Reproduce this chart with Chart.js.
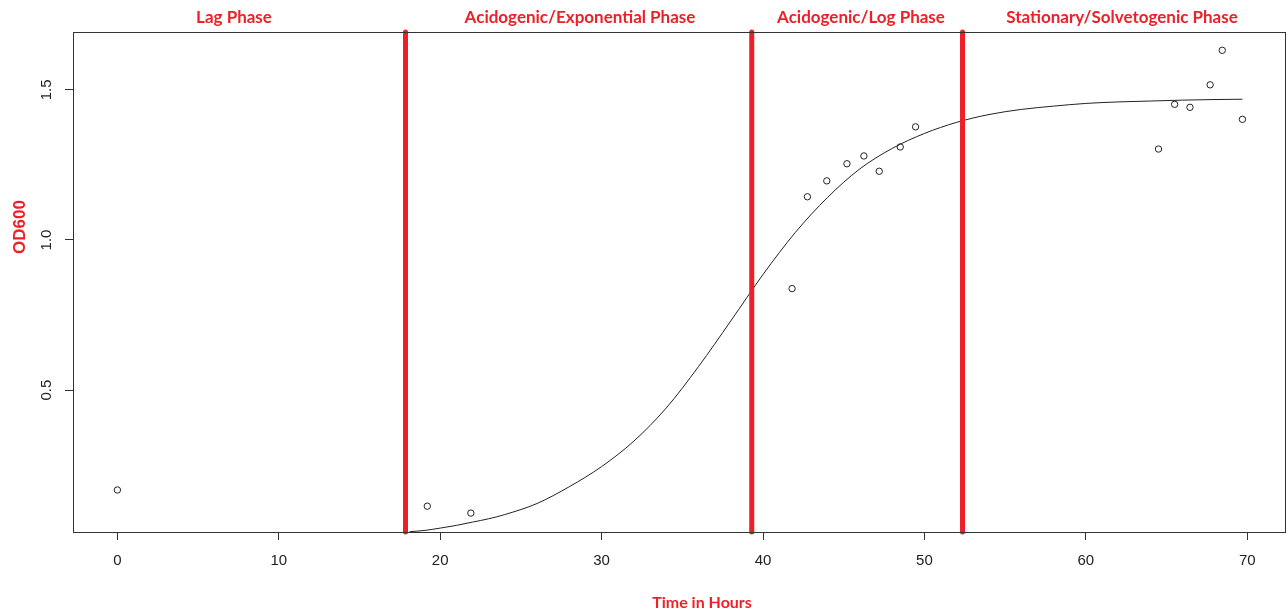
<!DOCTYPE html>
<html lang="en">
<head>
  <meta charset="utf-8" />
  <title>Growth curve OD600</title>
  <style>
    body { margin: 0; background: #fff; }
    #wrap { width: 1288px; height: 613px; }
  </style>
  <script src="https://cdn.jsdelivr.net/npm/chart.js"></script>
</head>
<body>
  <div id="wrap"><canvas id="growthChart" width="1288" height="613"></canvas></div>
  <script>
    // measured points (hours, OD600)
    const obsHours = [0, 19.2, 21.9, 41.8, 42.75, 43.95, 45.2, 46.25, 47.2, 48.5, 49.45, 64.5, 65.5, 66.45, 67.7, 68.45, 69.7];
    const obsOD    = [0.167, 0.113, 0.090, 0.838, 1.144, 1.197, 1.254, 1.280, 1.229, 1.310, 1.377, 1.303, 1.452, 1.442, 1.517, 1.632, 1.402];

    // fitted curve
    const fitHours = [18.1, 19, 20, 21, 22, 23, 24, 26, 28, 30, 32, 34, 36, 38, 40, 42, 44, 46, 48, 50, 52, 54, 56, 58, 60, 62, 64, 66, 68, 69.7];
    const fitOD    = [0.028, 0.032, 0.040, 0.049, 0.060, 0.071, 0.085, 0.122, 0.178, 0.245, 0.330, 0.440, 0.578, 0.730, 0.885, 1.025, 1.142, 1.237, 1.305, 1.355, 1.392, 1.418, 1.435, 1.446, 1.455, 1.460, 1.463, 1.466, 1.468, 1.469];

    // phase boundaries (hours)
    const phaseBreaks = [17.85, 39.3, 52.36];
    const phaseNames = ['Lag Phase', 'Acidogenic/Exponential Phase', 'Acidogenic/Log Phase', 'Stationary/Solvetogenic Phase'];

    const xTicks = [0, 10, 20, 30, 40, 50, 60, 70];
    const yTicks = [0.5, 1.0, 1.5];

    const X_MIN = -2.75, X_MAX = 72.4;
    const Y_MIN = 0.027, Y_MAX = 1.693;
    const RED = '#ee1f26';

    // label centres in pixels (hand placed like the original)
    const phaseLabelPx = [234, 580, 861, 1122];

    const textPlugin = {
      id: 'rtext',
      afterDraw(chart) {
        const ctx = chart.ctx;
        const a = chart.chartArea;
        const ys = chart.scales.y;
        ctx.save();
        // box around plot
        ctx.strokeStyle = '#333';
        ctx.lineWidth = 1;
        ctx.strokeRect(a.left + 0.5, a.top + 0.5, a.right - a.left - 1, a.bottom - a.top);

        // y tick labels, rotated like base R
        ctx.fillStyle = '#222';
        ctx.font = '15px "Liberation Sans", Arial, sans-serif';
        ctx.textAlign = 'center';
        ctx.textBaseline = 'middle';
        yTicks.forEach(v => {
          ctx.save();
          ctx.translate(47, ys.getPixelForValue(v));
          ctx.rotate(-Math.PI / 2);
          ctx.fillText(v.toFixed(1), 0, 0);
          ctx.restore();
        });

        // phase titles
        ctx.fillStyle = RED;
        ctx.font = 'bold 17px Lato, "Open Sans", sans-serif';
        phaseNames.forEach((t, i) => ctx.fillText(t, phaseLabelPx[i], 18));

        // axis titles
        ctx.font = 'bold 16px Lato, "Liberation Sans", sans-serif';
        ctx.fillText('Time in Hours', 702, 603);
        ctx.save();
        ctx.translate(20, 227);
        ctx.rotate(-Math.PI / 2);
        ctx.font = 'bold 17px "Liberation Sans", Arial, sans-serif';
        ctx.fillText('OD600', 0, 0);
        ctx.restore();
        ctx.restore();
      }
    };

    const phaseSets = phaseBreaks.map(h => ({
      type: 'line',
      data: [{ x: h, y: Y_MIN }, { x: h, y: Y_MAX }],
      borderColor: RED,
      borderWidth: 5,
      borderCapStyle: 'round',
      pointRadius: 0,
      clip: false
    }));

    new Chart(document.getElementById('growthChart'), {
      data: {
        datasets: [
          ...phaseSets,
          {
            type: 'line',
            data: fitHours.map((h, i) => ({ x: h, y: fitOD[i] })),
            borderColor: '#222',
            borderWidth: 1,
            pointRadius: 0,
            cubicInterpolationMode: 'monotone'
          },
          {
            type: 'scatter',
            data: obsHours.map((h, i) => ({ x: h, y: obsOD[i] })),
            borderColor: '#222',
            backgroundColor: 'rgba(0,0,0,0)',
            borderWidth: 1,
            pointRadius: 3.2
          }
        ]
      },
      options: {
        responsive: false,
        animation: false,
        layout: { autoPadding: false, padding: { top: 32, right: 2, left: 0, bottom: 0 } },
        plugins: { legend: { display: false }, tooltip: { enabled: false } },
        scales: {
          x: {
            type: 'linear',
            min: X_MIN, max: X_MAX,
            afterBuildTicks: s => { s.ticks = xTicks.map(v => ({ value: v })); },
            afterFit: s => { s.height = 81; s.paddingLeft = 0; s.paddingRight = 0; },
            border: { display: false },
            grid: { drawOnChartArea: false, drawTicks: true, tickLength: 8, color: '#333' },
            ticks: { color: '#222', padding: 12, maxRotation: 0, font: { family: '"Liberation Sans", Arial, sans-serif', size: 15 } }
          },
          y: {
            type: 'linear',
            min: Y_MIN, max: Y_MAX,
            afterBuildTicks: s => { s.ticks = yTicks.map(v => ({ value: v })); },
            afterFit: s => { s.width = 73; s.paddingTop = 0; s.paddingBottom = 0; },
            border: { display: false },
            grid: { drawOnChartArea: false, drawTicks: true, tickLength: 8, color: '#333' },
            ticks: { display: false }
          }
        }
      },
      plugins: [textPlugin]
    });
  </script>
</body>
</html>
